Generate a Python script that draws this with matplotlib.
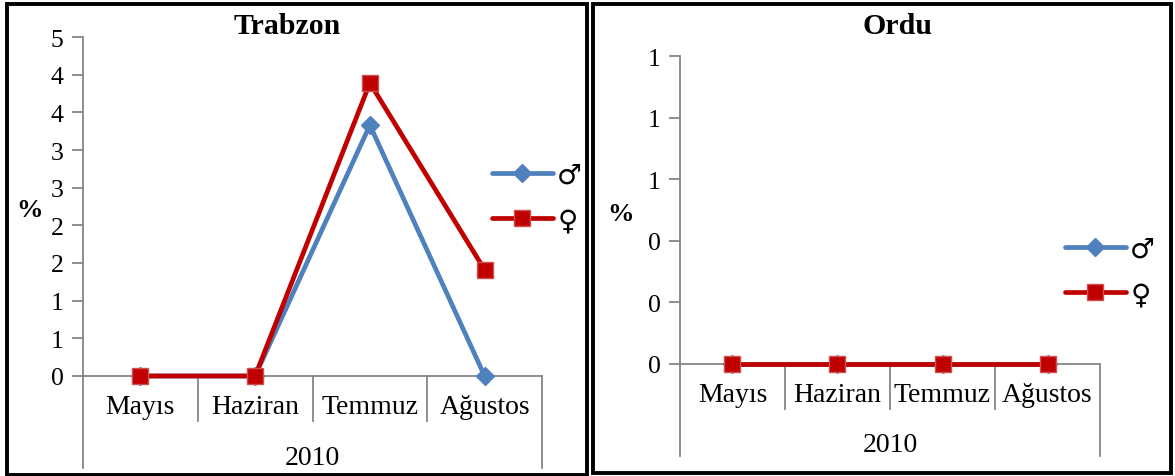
import numpy as np
import matplotlib.pyplot as plt
from matplotlib.patches import Rectangle
from matplotlib.ticker import FuncFormatter
import matplotlib.transforms as mtransforms

plt.rcParams['font.family'] = ['Liberation Serif', 'DejaVu Sans']

months = ["Mayıs", "Haziran", "Temmuz", "Ağustos"]
year = "2010"
sex_labels = ["♂", "♀"]

# percentages per month, male / female
trabzon_m = [0, 0, 3.33, 0]
trabzon_f = [0, 0, 3.89, 1.41]
ordu_m = [0, 0, 0, 0]
ordu_f = [0, 0, 0, 0]

blue = '#4F81BD'
red = '#C00000'
grey = '#868686'

W, H = 1175, 477
fig = plt.figure(figsize=(W/100, H/100), dpi=100)


def px(x0, y0, x1, y1):
    # pixel box (top-left origin) -> figure fraction [l, b, w, h]
    return [x0/W, 1-y1/H, (x1-x0)/W, (y1-y0)/H]


def round_half_up(v, pos):
    return "%d" % np.floor(v + 0.5 + 1e-9)


def panel(box, ymax, ystep, male, female, title, title_x, inner_drop, outer_drop, year_y, pct_x):
    ax = fig.add_axes(px(*box))
    x = np.arange(len(months))
    ax.plot(x, male, color=blue, lw=3.4, marker='D', ms=9.5, mfc=blue, mec=blue,
            solid_capstyle='round', label=sex_labels[0], clip_on=False, zorder=3)
    ax.plot(x, female, color=red, lw=3.4, marker='s', ms=12, mfc=red, mec='#D05050',
            mew=1, solid_capstyle='round', label=sex_labels[1], clip_on=False, zorder=4)
    ax.set_xlim(-0.5, len(months)-0.5)
    ax.set_ylim(0, ymax)
    ax.set_yticks(np.arange(0, ymax+ystep/2, ystep))
    ax.yaxis.set_major_formatter(FuncFormatter(round_half_up))
    ax.tick_params(axis='y', direction='out', length=8, width=1.3, color=grey,
                   labelsize=18.5, pad=6)
    ax.set_xticks(x)
    ax.set_xticklabels(months)
    ax.tick_params(axis='x', length=0, labelsize=20, pad=13)
    for s in ['top', 'right']:
        ax.spines[s].set_visible(False)
    for s in ['left', 'bottom']:
        ax.spines[s].set_color(grey)
        ax.spines[s].set_linewidth(1.3)

    # category dividers and outer group brackets below the axis
    tr = mtransforms.blended_transform_factory(ax.transData, ax.transAxes)
    for b in np.arange(-0.5, len(months), 1.0):
        drop = outer_drop if b in (-0.5, len(months)-0.5) else inner_drop
        ax.plot([b, b], [0, drop], color=grey, lw=1.3, transform=tr, clip_on=False)
    ax.text((len(months)-1)/2, year_y, year, transform=tr, ha='center', va='center',
            fontsize=20)

    fig.text(title_x/W, 1-27/H, title, ha='center', va='center', fontsize=21.5,
             fontweight='bold')
    fig.text(pct_x/W, 1-(box[1] + 0.51*(box[3]-box[1]))/H, "%", ha='center',
             va='center', fontsize=19, fontweight='bold')
    return ax


ax1 = panel((83, 38, 542, 377), 4.5, 0.5, trabzon_m, trabzon_f, "Trabzon", 287,
            -0.133, -0.271, -0.24, 29)
ax2 = panel((680, 57, 1100, 365), 1.0, 0.2, ordu_m, ordu_f, "Ordu", 897,
            -0.146, -0.299, -0.26, 621)

for ax, (lx, ly) in [(ax1, (478, 148)), (ax2, (1051, 222))]:
    ax.legend(loc='upper left', bbox_to_anchor=(lx/W, 1-ly/H),
              bbox_transform=fig.transFigure, frameon=False, borderpad=0,
              handlelength=2.2, handletextpad=0.15, labelspacing=0.62,
              prop={'family': ['DejaVu Sans'], 'size': 20})

# black frames round each panel
for x0, y0, x1, y1 in [(7, 5, 587, 476), (593, 5, 1171, 474)]:
    fig.add_artist(Rectangle((x0/W, 1-y1/H), (x1-x0)/W, (y1-y0)/H,
                             transform=fig.transFigure, fill=False,
                             edgecolor='black', lw=2.8))

fig.savefig('out.png', dpi=100)
